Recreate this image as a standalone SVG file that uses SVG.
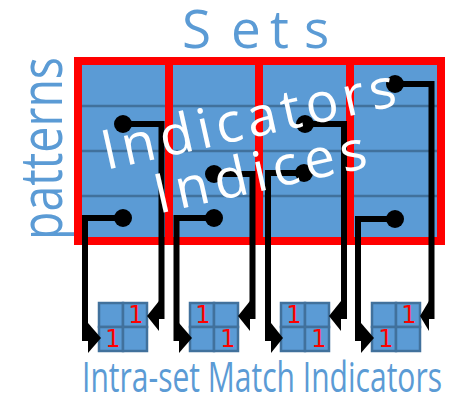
<svg xmlns="http://www.w3.org/2000/svg" width="456" height="398" viewBox="0 0 456 398">
  <style>
    .set-fill { fill: #5B9BD5; }
    .set-frame { fill: none; stroke: #FF0000; stroke-width: 8; }
    .row { stroke: #41719C; stroke-width: 2.5; }
    .cell { fill: #5B9BD5; stroke: #41719C; stroke-width: 2.5; }
    .one { fill: #FF0000; font-family: "DejaVu Sans", "Liberation Sans", sans-serif; font-size: 24px; text-anchor: middle; }
    .wire { fill: none; stroke: #000; stroke-width: 6; stroke-linejoin: miter; }
    .dot { fill: #000; }
    .head { fill: #000; }
    .label { fill: #5B9BD5; font-family: "Open Sans", "Liberation Sans", sans-serif; }
    .overlay { fill: #FFFFFF; font-family: "Open Sans", "Liberation Sans", sans-serif; font-size: 55px; text-anchor: middle; }
  </style>

  <!-- column headings and axis labels -->
  <text class="label" font-size="53" y="48" x="182 231 270 304">Sets</text>
  <text class="label" font-size="58" transform="translate(62,240) rotate(-90)" x="0" y="0" textLength="183" lengthAdjust="spacingAndGlyphs">patterns</text>

  <!-- four sets, each four pattern rows tall -->
  <g id="set1">
    <rect class="set-fill" x="78" y="61" width="91" height="180"/>
    <line class="row" x1="78" y1="106" x2="169" y2="106"/>
    <line class="row" x1="78" y1="151" x2="169" y2="151"/>
    <line class="row" x1="78" y1="196" x2="169" y2="196"/>
  </g>
  <g id="set2">
    <rect class="set-fill" x="169" y="61" width="90" height="180"/>
    <line class="row" x1="169" y1="106" x2="259" y2="106"/>
    <line class="row" x1="169" y1="151" x2="259" y2="151"/>
    <line class="row" x1="169" y1="196" x2="259" y2="196"/>
  </g>
  <g id="set3">
    <rect class="set-fill" x="259" y="61" width="91" height="180"/>
    <line class="row" x1="259" y1="106" x2="350" y2="106"/>
    <line class="row" x1="259" y1="151" x2="350" y2="151"/>
    <line class="row" x1="259" y1="196" x2="350" y2="196"/>
  </g>
  <g id="set4">
    <rect class="set-fill" x="350" y="61" width="91" height="180"/>
    <line class="row" x1="350" y1="106" x2="441" y2="106"/>
    <line class="row" x1="350" y1="151" x2="441" y2="151"/>
    <line class="row" x1="350" y1="196" x2="441" y2="196"/>
  </g>
  <g id="set-frames">
    <rect class="set-frame" x="78" y="61" width="91" height="180"/>
    <rect class="set-frame" x="169" y="61" width="90" height="180"/>
    <rect class="set-frame" x="259" y="61" width="91" height="180"/>
    <rect class="set-frame" x="350" y="61" width="91" height="180"/>
  </g>

  <!-- intra-set match indicator grids -->
  <g id="match1">
    <rect class="cell" x="99" y="303" width="24" height="24"/>
    <rect class="cell" x="123" y="303" width="24" height="24"/>
    <rect class="cell" x="99" y="327" width="24" height="24"/>
    <rect class="cell" x="123" y="327" width="24" height="24"/>
    <text class="one" x="136" y="323">1</text>
    <text class="one" x="113" y="347">1</text>
  </g>
  <g id="match2">
    <rect class="cell" x="190" y="303" width="24" height="24"/>
    <rect class="cell" x="214" y="303" width="24" height="24"/>
    <rect class="cell" x="190" y="327" width="24" height="24"/>
    <rect class="cell" x="214" y="327" width="24" height="24"/>
    <text class="one" x="203" y="323">1</text>
    <text class="one" x="228" y="347">1</text>
  </g>
  <g id="match3">
    <rect class="cell" x="281" y="303" width="24" height="24"/>
    <rect class="cell" x="305" y="303" width="24" height="24"/>
    <rect class="cell" x="281" y="327" width="24" height="24"/>
    <rect class="cell" x="305" y="327" width="24" height="24"/>
    <text class="one" x="294" y="323">1</text>
    <text class="one" x="319" y="347">1</text>
  </g>
  <g id="match4">
    <rect class="cell" x="372" y="303" width="24" height="24"/>
    <rect class="cell" x="396" y="303" width="24" height="24"/>
    <rect class="cell" x="372" y="327" width="24" height="24"/>
    <rect class="cell" x="396" y="327" width="24" height="24"/>
    <text class="one" x="409" y="323">1</text>
    <text class="one" x="386" y="347">1</text>
  </g>

  <!-- connectors: pattern slot to indicator cell -->
  <g id="connectors">
    <path class="wire" d="M123,218 H85 V338 H92"/>
    <circle class="dot" cx="123" cy="218" r="9"/>
    <polygon class="head" points="101,338 88,323 88,353"/>

    <path class="wire" d="M123,124 H161.5 V316 H155"/>
    <circle class="dot" cx="123" cy="124" r="9"/>
    <polygon class="head" points="147,316 159,301 159,331"/>

    <path class="wire" d="M214,218 H176.5 V338 H183"/>
    <circle class="dot" cx="214" cy="218" r="9"/>
    <polygon class="head" points="192,338 179,323 179,353"/>

    <path class="wire" d="M214,174 H252.5 V316 H246"/>
    <circle class="dot" cx="214" cy="174" r="9"/>
    <polygon class="head" points="238,316 250,301 250,331"/>

    <path class="wire" d="M304,173 H268 V338 H275"/>
    <circle class="dot" cx="304" cy="173" r="9"/>
    <polygon class="head" points="283,338 271,323 271,353"/>

    <path class="wire" d="M305,124 H344 V316 H338"/>
    <circle class="dot" cx="305" cy="124" r="9"/>
    <polygon class="head" points="329,316 341,301 341,331"/>

    <path class="wire" d="M395,219 H358 V338 H365"/>
    <circle class="dot" cx="395" cy="219" r="9"/>
    <polygon class="head" points="374,338 361,323 361,353"/>

    <path class="wire" d="M395,84 H431.5 V316 H425"/>
    <circle class="dot" cx="395" cy="84" r="9"/>
    <polygon class="head" points="420,316 429,301 429,331"/>
  </g>

  <!-- slanted overlay caption -->
  <g transform="translate(258,163) rotate(-12.5)">
    <text class="overlay" x="0" y="-26" textLength="300" lengthAdjust="spacing">Indicators</text>
    <text class="overlay" x="0" y="28" textLength="216" lengthAdjust="spacing">Indices</text>
  </g>

  <text class="label" font-size="42" x="82" y="392" textLength="360" lengthAdjust="spacingAndGlyphs">Intra-set Match Indicators</text>
</svg>
